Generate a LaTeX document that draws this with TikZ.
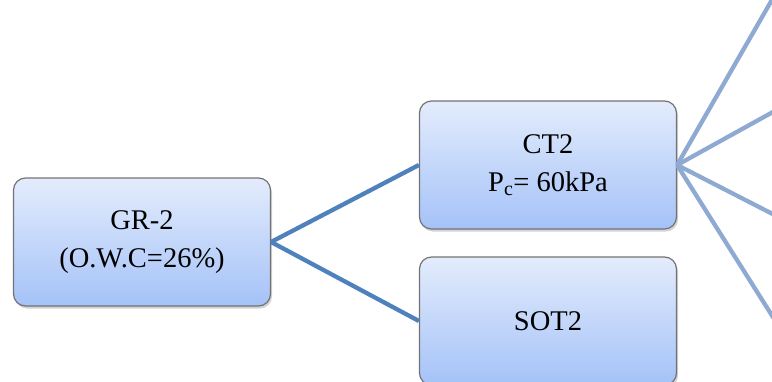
\documentclass[tikz,border=0pt]{standalone}
\usepackage{fontspec}
\setmainfont{Liberation Serif}
\usetikzlibrary{shadows}
\definecolor{boxtop}{RGB}{228,236,252}
\definecolor{boxbottom}{RGB}{164,194,248}
\definecolor{linkdark}{RGB}{79,129,189}
\definecolor{linklight}{RGB}{143,170,210}
\tikzstyle{stage} = [rectangle, rounded corners=12pt, draw=black!55,
line width=1.2pt, top color=boxtop, bottom color=boxbottom,
minimum width=257pt, minimum height=128pt, align=center,
font=\fontsize{28.5}{38}\selectfont,
drop shadow={opacity=0.35, shadow xshift=1.5pt, shadow yshift=-2.5pt}]
\tikzstyle{link} = [draw=linkdark, line width=4.3pt]
\tikzstyle{branch} = [link, draw=linklight]
\newcommand{\linkedge}[3][]{ %
  % Join node #2 to every node in #3.
  \foreach \t in {#3} { %
    \path (#2) edge[link, #1] (\t) ; %
  } ;
}
\begin{document}
\begin{tikzpicture}[x=1pt,y=-1pt]

	\useasboundingbox (0,0) rectangle (772,381);
	\clip (0,0) rectangle (772,381);

	\node[stage] (gr2)  at (142,242) {GR-2\\(O.W.C=26\%)} ;
	\node[stage] (ct2)  at (548,165) {CT2\\P\textsubscript{c}= 60kPa} ;
	\node[stage] (sot2) at (548,321) {SOT2} ;

	% branches leaving the picture on the right
	\coordinate (out0) at (800,-49);
	\coordinate (out1) at (800,97);
	\coordinate (out2) at (800,228);
	\coordinate (out3) at (800,360);

	\linkedge {gr2.east} {ct2.west, sot2.west};
	\linkedge[branch] {ct2.east} {out0, out1, out2, out3};

\end{tikzpicture}
\end{document}
